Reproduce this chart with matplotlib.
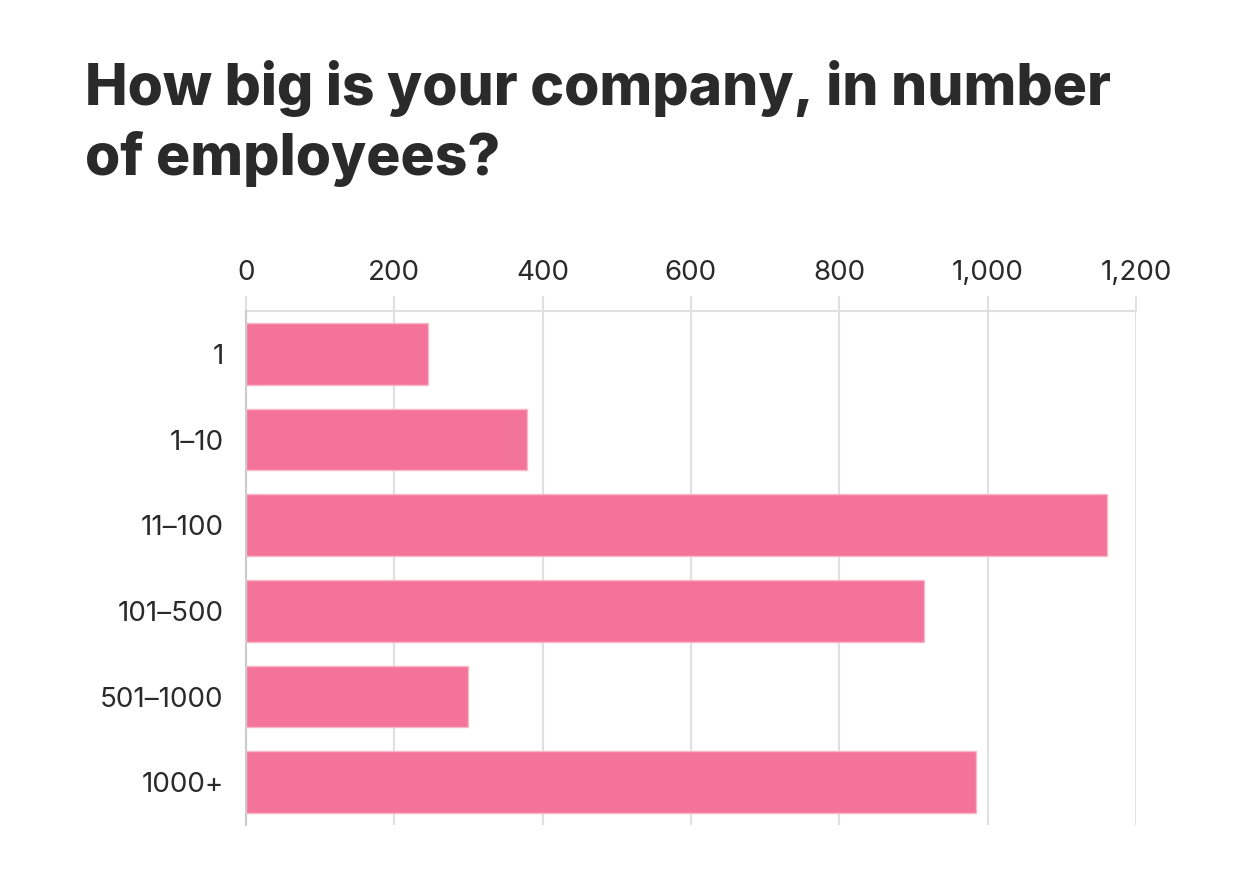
import matplotlib.pyplot as plt

categories = ["1", "1\u201310", "11\u2013100", "101\u2013500", "501\u20131000", "1000+"]
counts = [246, 379, 1161, 914, 299, 985]
xticks = [0, 200, 400, 600, 800, 1000, 1200]

plt.rcParams['font.family'] = ['Inter', 'DejaVu Sans']

fig = plt.figure(figsize=(12.36, 8.74), dpi=100)
ax = fig.add_axes([0.199, 0.056, 0.72, 0.588])

ax.barh(categories, counts, height=0.72, color='#F4739A', edgecolor='#F9B8CA', linewidth=1, zorder=3)
ax.set_ylim(5.5, -0.5)
ax.set_xlim(0, 1200)

ax.set_xticks(xticks)
ax.set_xticklabels([f"{v:,}" for v in xticks])
ax.xaxis.tick_top()
ax.grid(axis='x', color='#E0E0E0', linewidth=1.5, zorder=0)
ax.tick_params(axis='x', length=11, width=1.5, color='#E0E0E0', pad=7,
               labelsize=20, labelcolor='#2a2a2a')
ax.tick_params(axis='y', length=0, pad=16, labelsize=20, labelcolor='#2a2a2a')

for s in ['right', 'bottom']:
    ax.spines[s].set_visible(False)
ax.spines['top'].set_color('#E0E0E0')
ax.spines['top'].set_linewidth(1.5)
ax.spines['left'].set_color('#CCCCCC')
ax.spines['left'].set_linewidth(1.5)
ax.spines['left'].set_zorder(4)

title_lines = ["How big is your company, in number", "of employees?"]
for line, y in zip(title_lines, [0.880, 0.800]):
    fig.text(0.069, y, line, fontsize=41, fontweight='heavy', color='#2a2a2a',
             ha='left', va='baseline')

plt.savefig("out.png", dpi=100, facecolor='white')
